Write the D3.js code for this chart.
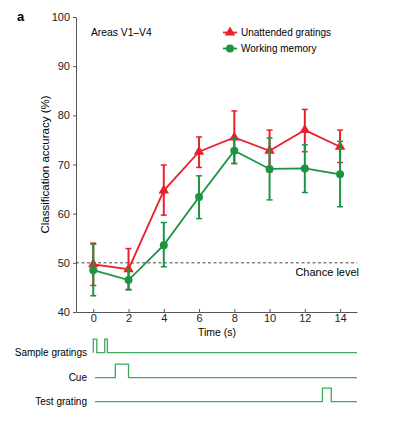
<!DOCTYPE html>
<html>
<head>
<meta charset="utf-8">
<script src="https://cdn.jsdelivr.net/npm/d3@7"></script>
<style>
  body { margin: 0; background: #fff; }
  svg { font-family: "Liberation Sans", Arial, sans-serif; }
  .axis path, .axis line { stroke: #555; }
  .axis text { font-size: 11px; fill: #222; }
</style>
</head>
<body>
<script>
// data
var times = [0, 2, 4, 6, 8, 10, 12, 14];
var unattMean = [49.7, 48.7, 64.7, 72.6, 75.5, 72.8, 77.0, 73.6];
var unattLow  = [45.4, 44.6, 59.7, 69.4, 70.2, 68.5, 72.6, 70.4];
var unattHigh = [54.0, 52.9, 69.9, 75.6, 80.9, 77.0, 81.2, 77.0];
var wmMean = [48.5, 46.5, 53.6, 63.4, 72.8, 69.1, 69.2, 68.0];
var wmLow  = [43.3, 44.5, 49.2, 59.0, 70.2, 62.8, 64.3, 61.4];
var wmHigh = [53.8, 48.7, 58.2, 67.7, 75.3, 75.4, 74.0, 74.7];
var xTicks = [0, 2, 4, 6, 8, 10, 12, 14];
var yTicks = [40, 50, 60, 70, 80, 90, 100];
var chance = 50;

// event timing traces (seconds)
var timingRows = ["Sample gratings", "Cue", "Test grating"];
var timingPulses = [[[0, 0.2], [0.65, 0.8]], [[1.25, 2.0]], [[13.0, 13.5]]];
var timingStart = [0, 0.1, 0.1];
var timingEnd = 14.96;

var red = "#e8212b", green = "#1d9442", traceGreen = "#3daa5c";

var W = 395, H = 421;
var svg = d3.select("body").append("svg")
    .attr("width", W).attr("height", H);

var x = d3.scaleLinear().domain([-0.98, 14.96]).range([76, 357]);
var y = d3.scaleLinear().domain([40, 100]).range([312, 17]);

// axes
svg.append("g")
    .attr("class", "axis")
    .attr("transform", "translate(0," + y(40) + ")")
    .call(d3.axisBottom(x).tickValues(xTicks).tickSizeInner(-3).tickSizeOuter(0).tickPadding(2));

svg.append("g")
    .attr("class", "axis")
    .attr("transform", "translate(" + x.range()[0] + ",0)")
    .call(d3.axisLeft(y).tickValues(yTicks).tickSizeInner(3).tickSizeOuter(0).tickPadding(3));

// axis titles
svg.append("text")
    .attr("transform", "translate(49," + ((y(40) + y(100)) / 2) + ") rotate(-90)")
    .attr("text-anchor", "middle")
    .style("font-size", "11.5px")
    .text("Classification accuracy (%)");

svg.append("text")
    .attr("x", 217).attr("y", 336)
    .attr("text-anchor", "middle")
    .style("font-size", "10.5px")
    .text("Time (s)");

svg.append("text")
    .attr("x", 17).attr("y", 21)
    .style("font-size", "13px").style("font-weight", "bold")
    .text("a");

svg.append("text")
    .attr("x", 91).attr("y", 35.5)
    .style("font-size", "10.3px")
    .text("Areas V1\u2013V4");

// chance line
svg.append("line")
    .attr("x1", x.range()[0]).attr("x2", x.range()[1])
    .attr("y1", y(chance)).attr("y2", y(chance))
    .attr("stroke", "#333").attr("stroke-dasharray", "3,2.5").attr("stroke-width", 0.9);
svg.append("text")
    .attr("x", 359).attr("y", 275.5)
    .attr("text-anchor", "end")
    .style("font-size", "11px")
    .text("Chance level");

// series
var series = [
  {name: "Unattended gratings", color: red, mean: unattMean, lo: unattLow, hi: unattHigh, shape: "tri"},
  {name: "Working memory", color: green, mean: wmMean, lo: wmLow, hi: wmHigh, shape: "dot"}
];

var line = d3.line()
    .x(function(d){ return x(d.t); })
    .y(function(d){ return y(d.v); });

var triangle = d3.symbol().type(d3.symbolTriangle).size(48);

function marker(g, s, px, py) {
  if (s.shape == "tri") {
    g.append("path").attr("d", triangle)
      .attr("transform", "translate(" + px + "," + py + ")")
      .attr("fill", s.color);
  } else {
    g.append("circle").attr("cx", px).attr("cy", py).attr("r", 4)
      .attr("fill", s.color);
  }
}

series.forEach(function(s) {
  var pts = times.map(function(t, i){ return {t: t, v: s.mean[i], lo: s.lo[i], hi: s.hi[i]}; });
  var g = svg.append("g");

  g.selectAll("line.err")
    .data(pts).enter().append("line")
      .attr("x1", function(d){ return x(d.t); })
      .attr("x2", function(d){ return x(d.t); })
      .attr("y1", function(d){ return y(d.lo); })
      .attr("y2", function(d){ return y(d.hi); })
      .attr("stroke", s.color).attr("stroke-width", 2);

  ["lo", "hi"].forEach(function(k) {
    g.selectAll("line.cap" + k)
      .data(pts).enter().append("line")
        .attr("x1", function(d){ return x(d.t) - 3; })
        .attr("x2", function(d){ return x(d.t) + 3; })
        .attr("y1", function(d){ return y(d[k]); })
        .attr("y2", function(d){ return y(d[k]); })
        .attr("stroke", s.color).attr("stroke-width", 1.5);
  });

  g.append("path")
    .datum(pts)
    .attr("d", line)
    .attr("fill", "none")
    .attr("stroke", s.color).attr("stroke-width", 1.8);

  pts.forEach(function(d){ marker(g, s, x(d.t), y(d.v)); });
});

// legend
var leg = svg.append("g");
series.forEach(function(s, i) {
  var ly = 32.5 + i * 16;
  leg.append("line")
    .attr("x1", 223).attr("x2", 237).attr("y1", ly).attr("y2", ly)
    .attr("stroke", s.color).attr("stroke-width", 1.8);
  marker(leg, s, 230, ly);
  leg.append("text")
    .attr("x", 241).attr("y", ly + 3.5)
    .style("font-size", "10px")
    .text(s.name);
});

// timing diagram
var rowY = [352.7, 377.7, 401.7];
var pulseH = 13.5;

timingRows.forEach(function(name, r) {
  var base = rowY[r], top = base - pulseH;
  var pts = [[x(timingStart[r]), base]];
  timingPulses[r].forEach(function(p) {
    pts.push([x(p[0]), base], [x(p[0]), top], [x(p[1]), top], [x(p[1]), base]);
  });
  pts.push([x(timingEnd), base]);

  svg.append("path")
    .attr("d", d3.line()(pts))
    .attr("fill", "none")
    .attr("stroke", traceGreen).attr("stroke-width", 1.3);

  svg.append("text")
    .attr("x", 87).attr("y", base + 3)
    .attr("text-anchor", "end")
    .style("font-size", "10px")
    .text(name);
});
</script>
</body>
</html>
